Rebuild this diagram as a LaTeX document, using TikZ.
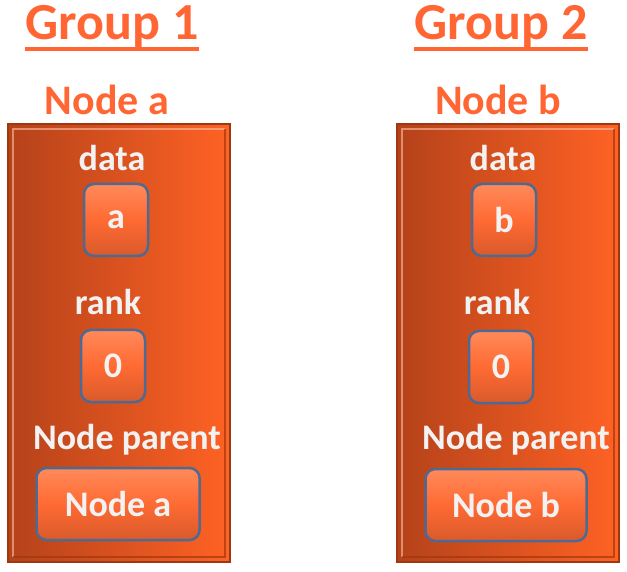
\documentclass[tikz,border=0pt]{standalone}
\usepackage{fontspec}
\setmainfont{Carlito}
\usepackage{xcolor}
\usepackage{tikz}
\usetikzlibrary{positioning}

\definecolor{titleorange}{HTML}{FF6633}
\definecolor{boxdark}{HTML}{B5421A}
\definecolor{boxlight}{HTML}{FF6224}
\definecolor{boxedge}{HTML}{9E3810}
\definecolor{cellfill}{HTML}{FF6A33}
\definecolor{celltop}{HTML}{FF8A5A}
\definecolor{cellrim}{HTML}{4D6A94}

\begin{document}
\begin{tikzpicture}[x=1pt, y=-1pt,
    grouptitle/.style={text=titleorange, font=\fontsize{52}{56}\selectfont\bfseries, inner sep=0pt},
    nodetitle/.style={text=titleorange, font=\fontsize{42}{46}\selectfont\bfseries, inner sep=0pt},
    bigbox/.style={draw=boxedge, line width=1.5pt, left color=boxdark, right color=boxlight,
        minimum width=222pt, minimum height=438pt, inner sep=0pt},
    fieldlabel/.style={text=white!95!black, font=\fontsize{36}{40}\selectfont\bfseries, inner sep=0pt},
    cellbox/.style={draw=cellrim, line width=2.5pt, rounded corners=10pt,
        top color=celltop, bottom color=cellfill!85!black, middle color=cellfill,
        text=white!95!black, font=\fontsize{36}{40}\selectfont\bfseries,
        minimum height=72pt, inner sep=0pt}]
    % khung cố định cho ảnh
    \useasboundingbox (0,0) rectangle (627,572);

    % 1. Tiêu đề các nhóm (có gạch chân)
    \node[grouptitle] (g1) at (112,27) {Group 1};
    \node[grouptitle] (g2) at (501,27) {Group 2};
    \draw[titleorange, line width=3.5pt] ([yshift=-9pt]g1.base west) -- ([yshift=-9pt]g1.base east);
    \draw[titleorange, line width=3.5pt] ([yshift=-9pt]g2.base west) -- ([yshift=-9pt]g2.base east);

    % 2. Tên node phía trên mỗi hộp
    \node[nodetitle] (ta) at (107,100) {Node a};
    \node[nodetitle] (tb) at (498,100) {Node b};

    % 3. Hộp lớn
    \node[bigbox] (boxa) at (119,343) {};
    \node[bigbox] (boxb) at (508,343) {};
    % viền nổi
    \draw[white!60!boxlight, line width=2pt, opacity=0.6] ([shift={(6,-6)}]boxa.south west) -- ([shift={(6,6)}]boxa.north west) -- ([shift={(-6,6)}]boxa.north east);
    \draw[boxedge, line width=2pt, opacity=0.7] ([shift={(-6,6)}]boxa.north east) -- ([shift={(-6,-6)}]boxa.south east) -- ([shift={(6,-6)}]boxa.south west);
    \draw[white!60!boxlight, line width=2pt, opacity=0.6] ([shift={(6,-6)}]boxb.south west) -- ([shift={(6,6)}]boxb.north west) -- ([shift={(-6,6)}]boxb.north east);
    \draw[boxedge, line width=2pt, opacity=0.7] ([shift={(-6,6)}]boxb.north east) -- ([shift={(-6,-6)}]boxb.south east) -- ([shift={(6,-6)}]boxb.south west);

    % 4. Các trường của Node a
    \node[fieldlabel] (dataa) at (112,158) {data};
    \node[cellbox, minimum width=64pt] (vala) at (116,220) {a};
    \node[fieldlabel] (ranka) at (108,302) {rank};
    \node[cellbox, minimum width=64pt] (rka) at (113,366) {0};
    \node[fieldlabel] (para) at (127,440) {Node parent};
    \node[cellbox, minimum width=163pt] (pa) at (118,504) {Node a};

    % 5. Các trường của Node b
    \node[fieldlabel] (datab) at (503,158) {data};
    \node[cellbox, minimum width=64pt] (valb) at (504,220) {b};
    \node[fieldlabel] (rankb) at (497,302) {rank};
    \node[cellbox, minimum width=64pt] (rkb) at (501,367) {0};
    \node[fieldlabel] (parb) at (516,440) {Node parent};
    \node[cellbox, minimum width=161pt] (pb) at (506,505) {Node b};
\end{tikzpicture}
\end{document}
